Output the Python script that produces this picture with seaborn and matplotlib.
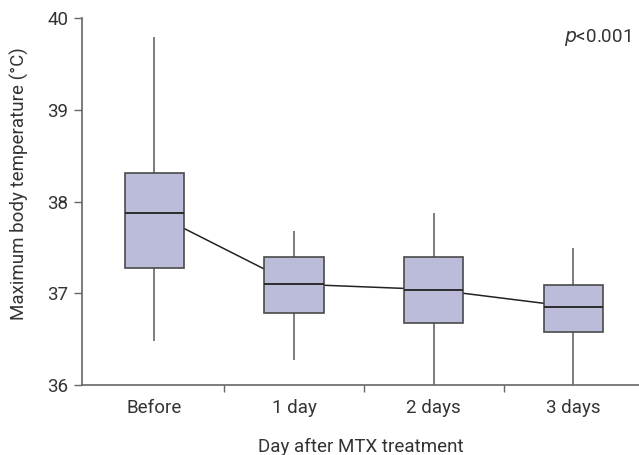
import numpy as np
import pandas as pd
import matplotlib
matplotlib.use("Agg")
import matplotlib.pyplot as plt
import seaborn as sns

# ─── Values ───────────────────────────────────────────────────────────────────
days      = ["Before", "1 day", "2 days", "3 days"]
whisk_lo  = [36.48, 36.27, 36.00, 36.00]
q1        = [37.28, 36.79, 36.68, 36.58]
medians   = [37.87, 37.10, 37.04, 36.85]
q3        = [38.31, 37.39, 37.39, 37.09]
whisk_hi  = [39.79, 37.68, 37.87, 37.49]

# five numbers per group -> with n=5 the linear quartiles are exactly q1/q3
rows = []
for i, d in enumerate(days):
    for v in (whisk_lo[i], q1[i], medians[i], q3[i], whisk_hi[i]):
        rows.append({"day": d, "temp": v})
df = pd.DataFrame(rows)

sns.set_theme(style="ticks")
plt.rcParams["font.family"] = ["Roboto", "DejaVu Sans"]
FS = 13.5

fig = plt.figure(figsize=(6.39, 4.55), dpi=100)
ax = fig.add_axes([0.128, 0.154, 0.872, 0.806])

# line joining the medians (under the boxes)
sns.pointplot(x=days, y=medians, order=days, color="#222222", markers="",
              linewidth=1.1, errorbar=None, ax=ax, zorder=1)

sns.boxplot(
    data=df, x="day", y="temp", order=days, whis=np.inf, width=0.425,
    color="#bbbbda", saturation=1, showcaps=False, ax=ax,
    boxprops=dict(facecolor="#bbbbda", edgecolor="#4a4a4a", linewidth=1.2, zorder=3),
    whiskerprops=dict(color="#666666", linewidth=1.2, zorder=2),
    medianprops=dict(color="#222222", linewidth=1.3, zorder=4),
)

ax.set_ylim(36, 40)
ax.set_xlim(-0.52, 3.47)
ax.set_yticks([36, 37, 38, 39, 40])
ax.set_xticks([0, 1, 2, 3])
ax.set_xticklabels(days)
ax.set_xticks([0.5, 1.5, 2.5], minor=True)
ax.tick_params(axis="x", which="major", length=0, pad=10, labelsize=FS, labelcolor="#333333")
ax.tick_params(axis="x", which="minor", length=5, width=1, color="#666666")
ax.tick_params(axis="y", length=6, width=1, color="#666666", labelsize=FS, labelcolor="#333333")

for s in ("left", "bottom"):
    ax.spines[s].set_color("#666666")
    ax.spines[s].set_linewidth(1.2)
sns.despine(ax=ax)

ax.set_xlabel("Day after MTX treatment", fontsize=FS, color="#333333", labelpad=15)
ax.set_ylabel("Maximum body temperature (\u00b0C)", fontsize=FS, color="#333333")
ax.yaxis.set_label_coords(-0.095, 0.55)

ax.text(0.985, 0.948, r"$\it{p}$<0.001", transform=ax.transAxes, ha="right",
        va="center", fontsize=FS, color="#333333")

fig.savefig("out.png", dpi=100)
